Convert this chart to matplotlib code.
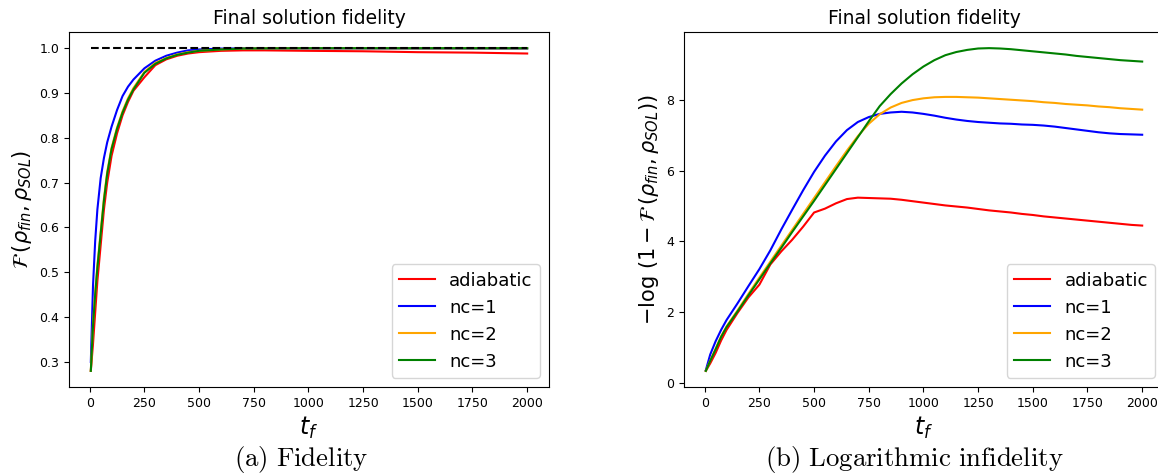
import matplotlib
matplotlib.use("Agg")
import matplotlib.pyplot as plt
import numpy as np

# ---- data: final fidelity vs total time t_f ----
t_fid = [5, 15, 25, 35, 50, 65, 80, 100, 125, 150, 175, 200, 250, 300, 350, 400, 450, 500,
         600, 700, 800, 1000, 1250, 1500, 1750, 2000]
fid_adiabatic = [0.28, 0.34, 0.41, 0.48, 0.56, 0.64, 0.70, 0.76, 0.81, 0.85, 0.88, 0.905, 0.935, 0.962,
                 0.975, 0.983, 0.988, 0.991, 0.994, 0.995, 0.995, 0.994, 0.993, 0.991, 0.990, 0.988]
fid_nc1 = [0.30, 0.47, 0.57, 0.64, 0.71, 0.755, 0.79, 0.825, 0.862, 0.893, 0.914, 0.930, 0.955, 0.972,
           0.983, 0.990, 0.995, 0.997, 0.999, 0.9995, 0.9995, 0.9995, 0.9994, 0.9993, 0.9992, 0.9991]
fid_nc2 = [0.28, 0.385, 0.455, 0.515, 0.59, 0.665, 0.724, 0.778, 0.823, 0.859, 0.888, 0.911, 0.947, 0.967,
           0.978, 0.986, 0.991, 0.994, 0.997, 0.999, 0.9995, 0.9997, 0.9997, 0.9996, 0.9996, 0.9996]
fid_nc3 = [0.28, 0.38, 0.45, 0.51, 0.585, 0.66, 0.72, 0.775, 0.82, 0.856, 0.885, 0.908, 0.945, 0.965,
           0.977, 0.985, 0.990, 0.994, 0.997, 0.999, 0.9995, 0.9999, 0.9999, 0.9999, 0.9999, 0.9999]

# ---- data: logarithmic infidelity ----
t_log = [5, 25, 50, 75, 100, 150, 200, 250, 300, 350, 400, 450, 500, 550, 600, 650, 700, 750, 800,
         850, 900, 950, 1000, 1050, 1100, 1150, 1200, 1250, 1300, 1350, 1400, 1450, 1500, 1550, 1600,
         1650, 1700, 1750, 1800, 1850, 1900, 1950, 2000]
log_adiabatic = [0.34, 0.55, 0.85, 1.20, 1.50, 1.98, 2.42, 2.78, 3.35, 3.72, 4.05, 4.42, 4.82, 4.93, 5.08,
                 5.20, 5.24, 5.23, 5.22, 5.21, 5.18, 5.14, 5.10, 5.06, 5.02, 4.99, 4.96, 4.92, 4.88, 4.85,
                 4.82, 4.78, 4.75, 4.71, 4.68, 4.65, 4.62, 4.59, 4.56, 4.53, 4.50, 4.47, 4.45]
log_nc1 = [0.36, 0.80, 1.18, 1.50, 1.78, 2.25, 2.74, 3.22, 3.75, 4.34, 4.90, 5.45, 5.97, 6.43, 6.83,
           7.15, 7.38, 7.52, 7.61, 7.65, 7.67, 7.65, 7.61, 7.56, 7.50, 7.45, 7.41, 7.38, 7.36, 7.34,
           7.33, 7.31, 7.30, 7.28, 7.25, 7.21, 7.17, 7.13, 7.09, 7.06, 7.04, 7.03, 7.02]
log_nc2 = [0.34, 0.63, 0.97, 1.32, 1.60, 2.05, 2.52, 2.98, 3.43, 3.88, 4.33, 4.78, 5.23, 5.68, 6.13,
           6.57, 6.98, 7.33, 7.60, 7.79, 7.92, 8.00, 8.05, 8.08, 8.09, 8.09, 8.08, 8.07, 8.05, 8.03,
           8.01, 7.99, 7.97, 7.94, 7.92, 7.89, 7.87, 7.85, 7.82, 7.80, 7.77, 7.75, 7.73]
log_nc3 = [0.34, 0.62, 0.95, 1.30, 1.58, 2.02, 2.48, 2.93, 3.38, 3.82, 4.27, 4.71, 5.15, 5.60, 6.05,
           6.50, 6.95, 7.40, 7.83, 8.17, 8.47, 8.73, 8.95, 9.13, 9.27, 9.36, 9.42, 9.46, 9.47, 9.46,
           9.44, 9.41, 9.38, 9.35, 9.32, 9.29, 9.25, 9.22, 9.19, 9.16, 9.13, 9.11, 9.09]

labels = ["adiabatic", "nc=1", "nc=2", "nc=3"]
colors = ["red", "blue", "orange", "green"]

fig = plt.figure(figsize=(11.58, 4.75), dpi=100)
W, H = 1158, 475
axL = fig.add_axes([69 / W, 1 - 387 / H, 480 / W, 355 / H])
axR = fig.add_axes([684 / W, 1 - 387 / H, 480 / W, 355 / H])

for ys, lab, c in zip([fid_adiabatic, fid_nc1, fid_nc2, fid_nc3], labels, colors):
    axL.plot(t_fid, ys, color=c, label=lab, lw=1.5)
axL.plot([t_fid[0], t_fid[-1]], [1.0, 1.0], color="black", ls="--", lw=1.5)

for ys, lab, c in zip([log_adiabatic, log_nc1, log_nc2, log_nc3], labels, colors):
    axR.plot(t_log, ys, color=c, label=lab, lw=1.5)

axL.set_yticks([0.3, 0.4, 0.5, 0.6, 0.7, 0.8, 0.9, 1.0])
axR.set_yticks([0, 2, 4, 6, 8])
for ax in (axL, axR):
    ax.set_xticks([0, 250, 500, 750, 1000, 1250, 1500, 1750, 2000])
    ax.tick_params(labelsize=9)
    ax.set_title("Final solution fidelity", fontsize=13.5)
    ax.set_xlabel(r"$t_f$", fontsize=17)
    ax.legend(loc="lower right", fontsize=13)

axL.set_ylabel(r"$\mathcal{F}\,(\rho_{fin},\rho_{SOL})$", fontsize=15)
axR.set_ylabel(r"$-\log\,(1-\mathcal{F}\,(\rho_{fin},\rho_{SOL}))$", fontsize=15)

fig.text(301 / W, 1 - 466 / H, r"$\mathrm{(a)\ Fidelity}$", ha="center", va="baseline",
         fontsize=19.3, math_fontfamily="cm")
fig.text(914 / W, 1 - 466 / H, r"$\mathrm{(b)\ Logarithmic\ infidelity}$", ha="center", va="baseline",
         fontsize=19.3, math_fontfamily="cm")

fig.savefig("out.png", dpi=100)
